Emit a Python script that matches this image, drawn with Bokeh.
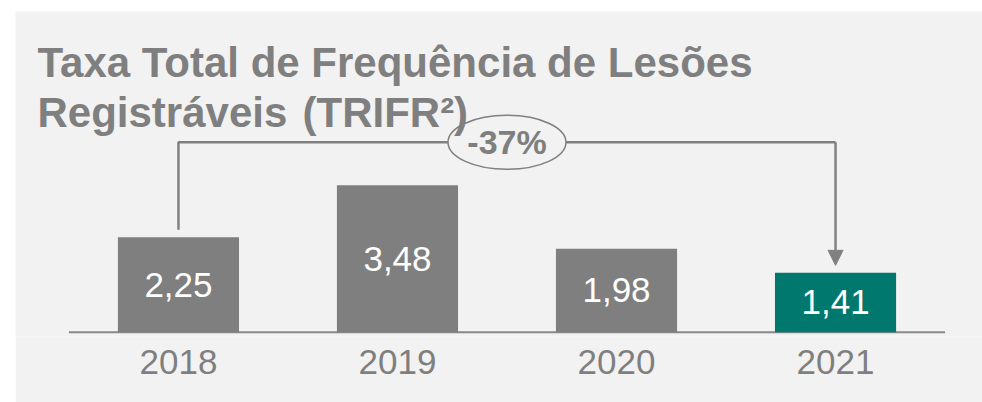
from bokeh.plotting import figure
from bokeh.models import FixedTicker, Label, Arrow, NormalHead, Range1d, ColumnDataSource
from bokeh.core.properties import value
from bokeh.embed import file_html
from bokeh.resources import INLINE

# ---- data ----
years = ["2018", "2019", "2020", "2021"]
trifr = [2.25, 3.48, 1.98, 1.41]
value_labels = ["2,25", "3,48", "1,98", "1,41"]
bar_colors = ["#7f7f7f", "#7f7f7f", "#7f7f7f", "#00786e"]
title_line1 = "Taxa Total de Frequência de Lesões"
title_line2 = ["Registráveis", "(TRIFR²)"]
change_label = "-37%"

# ---- style ----
BG = "#f2f2f2"
GRAY = "#7f7f7f"
LINE = "#808080"
FONT = "Liberation Sans"

idx = list(range(len(years)))

p = figure(width=967, height=391,
           x_range=Range1d(-0.744, 3.671), y_range=Range1d(-0.102, 7.6),
           output_backend="svg", toolbar_location=None,
           min_border_left=0, min_border_right=0, min_border_top=0, min_border_bottom=66,
           margin=(11, 0, 0, 15),
           background_fill_color=BG, border_fill_color=BG, outline_line_color=None)

p.yaxis.visible = False
p.xgrid.grid_line_color = None
p.ygrid.grid_line_color = None

ax = p.xaxis[0]
ax.ticker = FixedTicker(ticks=idx)
ax.major_label_overrides = {i: y for i, y in zip(idx, years)}
ax.axis_line_color = None
ax.major_tick_line_color = None
ax.minor_tick_line_color = None
ax.major_tick_out = 0
ax.major_tick_in = 0
ax.major_label_standoff = 13
ax.major_label_text_font = FONT
ax.major_label_text_font_size = "35px"
ax.major_label_text_color = GRAY

src = ColumnDataSource(dict(x=idx, top=trifr, mid=[v / 2 for v in trifr],
                            lab=value_labels, color=bar_colors))

# baseline
p.segment(x0=idx[0] - 0.5, y0=0, x1=idx[-1] + 0.5, y1=0, line_color="#888888", line_width=2)

p.vbar(x="x", top="top", bottom=0, width=0.553, fill_color="color", line_color=None, source=src)
p.text(x="x", y="mid", text="lab", source=src, text_align="center", text_baseline="middle",
       text_color="white", text_font=value(FONT), text_font_size="35px")

# bracket
gap = 0.175
yb = 4.5
p.line(x=[idx[0], idx[0], idx[-1]], y=[trifr[0] + gap, yb, yb], line_color=LINE, line_width=2.5)
p.add_layout(Arrow(x_start=idx[-1], y_start=yb, x_end=idx[-1], y_end=trifr[-1] + gap,
                   line_color=LINE, line_width=2.5,
                   end=NormalHead(size=15, fill_color=LINE, line_color=LINE, line_width=1)))

xm = (idx[0] + idx[-1]) / 2
p.ellipse(x=xm, y=yb, width=118, height=54, width_units="screen", height_units="screen",
          fill_color=BG, line_color=LINE, line_width=1.5)
p.text(x=[xm], y=[yb], text=[change_label], text_align="center", text_baseline="middle",
       text_color=GRAY, text_font=value(FONT), text_font_size="34px", text_font_style="bold")

# title
def title_label(text, x, y):
    p.add_layout(Label(x=x, y=y, x_units="screen", y_units="screen", text=text,
                       text_font=FONT, text_font_size="42px", text_font_style="bold",
                       text_color=GRAY, text_baseline="alphabetic"))

title_label(title_line1, 22, 274.5)
title_label(title_line2[0], 22, 224.5)
title_label(title_line2[1], 287, 224.5)

open("out.html", "w").write(file_html(p, INLINE))
